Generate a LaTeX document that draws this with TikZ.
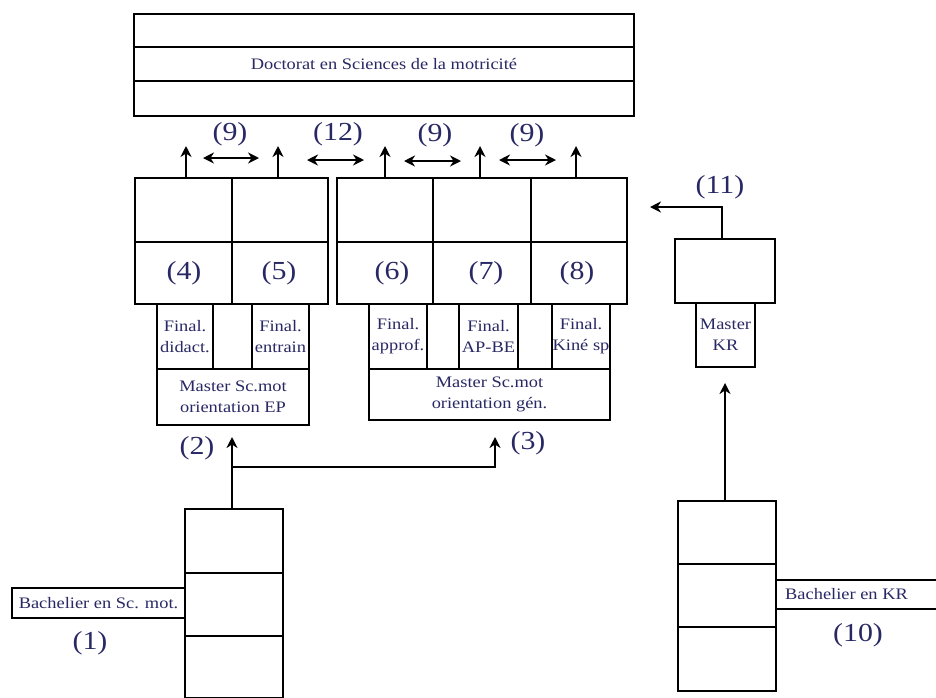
\documentclass[tikz,border=0pt]{standalone}
\usepackage{fontspec}
\setmainfont{Liberation Serif}[FakeStretch=1.15]
\usetikzlibrary{arrows.meta}
\definecolor{navy}{RGB}{40,40,100}
\tikzset{
  cell/.style={draw=black, line width=2.2pt, inner sep=0pt, outer sep=0pt, fill=white},
  small/.style={text=navy, font=\fontsize{16}{21}\selectfont, align=center, inner sep=0pt},
  num/.style={text=navy, font=\fontsize{26}{28}\selectfont, inner sep=0pt},
  conn/.style={draw=black, line width=2.4pt, -{Stealth[length=11pt,width=11pt]}},
  dconn/.style={draw=black, line width=2.4pt, {Stealth[length=11pt,width=11pt]}-{Stealth[length=11pt,width=11pt]}},
  line/.style={draw=black, line width=2.2pt}
}
\newcommand{\cellbox}[6][]{% name, x1, y1, x2, y2 ; text
  \node[cell, minimum width={(#4-#2)*1pt}, minimum height={(#5-#3)*1pt}, #1] (#6) at ({(#2+#4)/2},{(#3+#5)/2})}
\begin{document}
\begin{tikzpicture}[x=1pt,y=-1pt]
\useasboundingbox (0,0) rectangle (936,697);
% Doctorat
\cellbox{134}{14}{634}{47}{doca} {};
\cellbox{134}{47}{634}{81}{docb} {};
\cellbox{134}{81}{634}{116}{docc} {};
\node[small] (doctxt) at (docb) {Doctorat en Sciences de la motricité};
% left group cells
\cellbox{135}{178}{232}{242}{c4t} {};
\cellbox{135}{242}{232}{304}{c4b} {};
\cellbox{232}{178}{328}{242}{c5t} {};
\cellbox{232}{242}{328}{304}{c5b} {};
% right group cells
\cellbox{337}{178}{433}{242}{c6t} {};
\cellbox{337}{242}{433}{304}{c6b} {};
\cellbox{433}{178}{531}{242}{c7t} {};
\cellbox{433}{242}{531}{304}{c7b} {};
\cellbox{531}{178}{627}{242}{c8t} {};
\cellbox{531}{242}{627}{304}{c8b} {};
\node[num] (n4) at (184,273) {(4)};
\node[num] (n5) at (279,273) {(5)};
\node[num] (n6) at (392,273) {(6)};
\node[num] (n7) at (486,273) {(7)};
\node[num] (n8) at (577,273) {(8)};
% Masters
\cellbox{157}{369}{309}{425}{mep} {};
\node[small] (meptxt) at (mep) {Master Sc.mot\\orientation EP};
\cellbox{157}{304}{213}{369}{fdid} {};
\node[small] (fdidt) at (fdid) {Final.\\didact.};
\cellbox{252}{304}{309}{369}{fent} {};
\node[small] (fentt) at (fent) {Final.\\entrain};
\cellbox{369}{369}{610}{420}{mgen} {};
\node[small] (mgent) at (mgen) {Master Sc.mot\\orientation gén.};
\cellbox{369}{304}{427}{369}{fapp} {};
\node[small] (fappt) at (fapp) {Final.\\approf.};
\cellbox{459}{304}{518}{369}{fap} {};
\node[small] (fapt) at (fap) {Final.\\AP-BE};
\cellbox{552}{304}{610}{369}{fkin} {};
\node[small] (fkint) at (fkin) {Final.\\Kiné sp};
% KR
\cellbox{675}{239}{775}{303}{krt} {};
\cellbox{696}{303}{755}{367}{mkr} {};
\node[small] (mkrt) at (mkr) {Master\\KR};
% lower stacks
\cellbox{185}{509}{283}{573}{lla} {};
\cellbox{185}{573}{283}{636}{llb} {};
\cellbox{185}{636}{283}{698}{llc} {};
\cellbox{678}{501}{776}{564}{lra} {};
\cellbox{678}{564}{776}{627}{lrb} {};
\cellbox{678}{627}{776}{691}{lrc} {};
\cellbox{12}{588}{185}{618}{bsm} {};
\node[small] (bsmt) at (bsm) {Bachelier en Sc. mot.};
\node[inner sep=0pt, minimum width=160pt, minimum height=29pt] (bkr) at (856,594.5) {};
\draw[line] (bkr.north east) -- (bkr.north west) -- (bkr.south west) -- (bkr.south east);
\node[small, anchor=west] (bkrt) at (785,594.5) {Bachelier en KR};
\node[num] (n1) at (90,643) {(1)};
\node[num] (n10) at (858,635) {(10)};
% upward arrows to doctorate
\coordinate (a4) at (186,146);
\coordinate (a5) at (278,146);
\coordinate (a6) at (385,146);
\coordinate (a7) at (480,146);
\coordinate (a8) at (576,146);
\draw[conn] (c4t.north -| a4) -- (a4);
\draw[conn] (c5t.north -| a5) -- (a5);
\draw[conn] (c6t.north -| a6) -- (a6);
\draw[conn] (c7t.north -| a7) -- (a7);
\draw[conn] (c8t.north -| a8) -- (a8);
% double arrows
\coordinate (d1a) at (203,158); \coordinate (d1b) at (259,158);
\coordinate (d2a) at (307,160); \coordinate (d2b) at (364,160);
\coordinate (d3a) at (404,161); \coordinate (d3b) at (461,161);
\coordinate (d4a) at (499,160); \coordinate (d4b) at (556,160);
\draw[dconn] (d1a) -- (d1b);
\draw[dconn] (d2a) -- (d2b);
\draw[dconn] (d3a) -- (d3b);
\draw[dconn] (d4a) -- (d4b);
\node[num] (n9a) at (230,134) {(9)};
\node[num] (n12) at (338,134) {(12)};
\node[num] (n9b) at (435,135) {(9)};
\node[num] (n9c) at (527,135) {(9)};
% bachelor to masters
\coordinate (t2) at (232,437);
\coordinate (br) at (232,467);
\coordinate (c3) at (495,467);
\coordinate (t3) at (495,437);
\draw[conn] (lla.north -| t2) -- (t2);
\draw[conn] (br) -- (c3) -- (t3);
\node[num] (n2) at (197,448) {(2)};
\node[num] (n3) at (528,443) {(3)};
% KR arrows
\coordinate (tkr) at (725,383);
\draw[conn] (lra.north -| tkr) -- (tkr);
\coordinate (k11) at (722,207);
\coordinate (k11e) at (650,207);
\draw[conn] (krt.north -| k11) -- (k11) -- (k11e);
\node[num] (n11) at (720,187) {(11)};
\end{tikzpicture}
\end{document}
